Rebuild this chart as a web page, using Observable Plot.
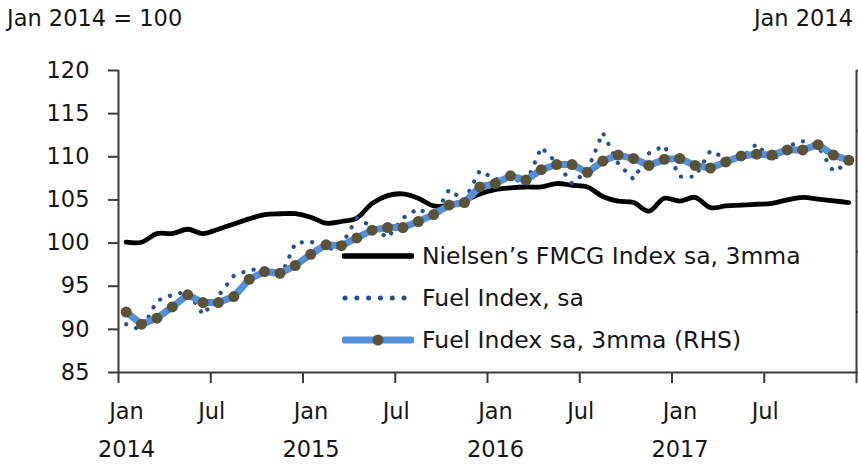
<!DOCTYPE html>
<html>
<head>
<meta charset="utf-8">
<script src="https://cdn.jsdelivr.net/npm/d3@7"></script>
<script src="https://cdn.jsdelivr.net/npm/@observablehq/plot@0.6"></script>
<style>
  html, body { margin: 0; padding: 0; background: #fff; }
  #wrap { position: relative; width: 858px; height: 468px; font-family: "DejaVu Sans", Verdana, sans-serif; color: #161616; }
  .lab { position: absolute; font-size: 22.5px; white-space: nowrap; line-height: 1; }
  .leg { position: absolute; display: flex; align-items: center; font-size: 23.5px; white-space: nowrap; }
  .leg svg { margin-right: 8px; }
</style>
</head>
<body>
<div id="wrap"></div>
<script>
// Monthly data, Jan 2014 .. Dec 2017 (48 months)
const nielsen = [100.1,100.1,101.1,101.1,101.6,101.1,101.6,102.2,102.8,103.3,103.4,103.4,
                 103.0,102.3,102.5,102.9,104.6,105.5,105.7,105.2,104.3,104.4,104.9,105.7,
                 106.2,106.4,106.5,106.5,106.9,106.7,106.5,105.4,104.85,104.7,103.7,105.2,
                 104.85,105.3,104.1,104.3,104.4,104.5,104.6,105.0,105.3,105.1,104.9,104.7];
const fuel = [90.6,89.9,93.3,94.0,94.4,91.7,93.9,96.2,96.9,97.0,95.9,100.0,
              100.2,99.2,99.7,102.9,101.9,100.6,102.9,104.0,103.0,106.2,104.9,108.4,
              107.4,107.6,106.9,111.1,109.3,106.9,108.4,112.8,109.2,107.4,110.4,111.3,
              107.7,107.7,110.7,109.8,109.8,111.5,109.5,111.2,111.8,111.2,108.3,109.3];
const fuel3mma = [92.0,90.6,91.3,92.6,94.0,93.1,93.1,93.8,95.8,96.7,96.5,97.4,
                  98.7,99.8,99.7,100.6,101.5,101.8,101.8,102.5,103.3,104.4,104.7,106.5,
                  106.9,107.8,107.3,108.5,109.1,109.1,108.2,109.5,110.2,109.8,109.0,109.7,
                  109.8,109.0,108.7,109.4,110.1,110.3,110.2,110.8,110.8,111.4,110.2,109.6];
const yTicks = [85, 90, 95, 100, 105, 110, 115, 120];
const rightTicks = [85, 92, 99, 106, 113, 120];
const monthTickLabels = ["Jan","Jul","Jan","Jul","Jan","Jul","Jan","Jul"];
const yearLabels = ["2014","2015","2016","2017"];
const seriesNames = ["Nielsen\u2019s FMCG Index sa, 3mma", "Fuel Index, sa", "Fuel Index sa, 3mma (RHS)"];
const leftTitle = "Jan 2014 = 100";
const rightTitle = "Jan 2014";

const rows = arr => arr.map((v, i) => ({x: i + 0.5, v}));
const xTickPos = d3.range(0, 49, 6);
const monthRows = monthTickLabels.map((t, k) => ({x: k * 6, t}));
const janRows = monthRows.filter(d => d.t === "Jan");
const julRows = monthRows.filter(d => d.t === "Jul");
const yearRows = yearLabels.map((t, k) => ({x: k * 12, t}));

const txt = {fontSize: 22.5, fill: "#161616", frameAnchor: "bottom"};

const chart = Plot.plot({
  width: 858, height: 468,
  marginLeft: 118, marginRight: 2, marginTop: 70, marginBottom: 96,
  style: {fontFamily: "DejaVu Sans, Verdana, sans-serif", fontSize: "22.5px", color: "#161616", background: "#fff"},
  x: {domain: [0, 48]},
  y: {domain: [85, 120]},
  marks: [
    Plot.line(rows(nielsen), {x: "x", y: "v", stroke: "#000", strokeWidth: 4.8, curve: "catmull-rom", strokeLinejoin: "round"}),
    Plot.line(rows(fuel), {x: "x", y: "v", stroke: "#24528f", strokeWidth: 4.2, strokeDasharray: "0.1,10.5", strokeLinecap: "round"}),
    Plot.line(rows(fuel3mma), {x: "x", y: "v", stroke: "#5490dc", strokeWidth: 7, strokeLinejoin: "round", strokeLinecap: "round"}),
    Plot.dot(rows(fuel3mma), {x: "x", y: "v", r: 5.5, fill: "#5a5338", stroke: "none"}),
    Plot.ruleY([85], {stroke: "#3a3a3a", strokeWidth: 2}),
    Plot.ruleX([0, 48], {y1: 85, y2: 120, stroke: "#3a3a3a", strokeWidth: 2}),
    Plot.axisY({anchor: "left", ticks: yTicks, tickSize: 10, tickPadding: 19, stroke: "#3a3a3a", strokeWidth: 2, label: null, fontSize: 22.5}),
    Plot.axisY({anchor: "right", ticks: rightTicks, tickSize: 5, tickFormat: () => "", stroke: "#3a3a3a", strokeWidth: 2, label: null}),
    Plot.axisX({ticks: xTickPos, tickSize: 11, tickFormat: () => "", stroke: "#3a3a3a", strokeWidth: 2, label: null}),
    Plot.text(janRows, {x: "x", text: "t", dy: 46, dx: 8, ...txt}),
    Plot.text(julRows, {x: "x", text: "t", dy: 46, dx: 1, ...txt}),
    Plot.text(yearRows, {x: "x", text: "t", dy: 84, dx: 8, ...txt})
  ]
});

const wrap = document.getElementById("wrap");
wrap.appendChild(chart);
chart.style.position = "absolute";
chart.style.left = "0px";
chart.style.top = "0px";

function addLabel(text, css) {
  const d = document.createElement("div");
  d.className = "lab";
  d.textContent = text;
  Object.assign(d.style, css);
  wrap.appendChild(d);
}
addLabel(leftTitle, {left: "7px", top: "7px"});
addLabel(rightTitle, {right: "5px", top: "7px"});

const swatches = [
  `<svg width="72" height="14"><line x1="2" y1="7" x2="70" y2="7" stroke="#000" stroke-width="5.5" stroke-linecap="round"/></svg>`,
  `<svg width="72" height="14"><line x1="3" y1="7" x2="72" y2="7" stroke="#24528f" stroke-width="5" stroke-dasharray="0.1,11.7" stroke-linecap="round"/></svg>`,
  `<svg width="72" height="14"><line x1="3" y1="7" x2="69" y2="7" stroke="#5490dc" stroke-width="7" stroke-linecap="round"/><circle cx="36" cy="7" r="5.5" fill="#5a5338"/></svg>`
];
const legTops = [256, 298, 340];
seriesNames.forEach((name, k) => {
  const d = document.createElement("div");
  d.className = "leg";
  d.style.left = "342px";
  d.style.top = (legTops[k] - 13) + "px";
  d.style.height = "26px";
  d.innerHTML = swatches[k] + `<span>${name}</span>`;
  wrap.appendChild(d);
});
</script>
</body>
</html>
